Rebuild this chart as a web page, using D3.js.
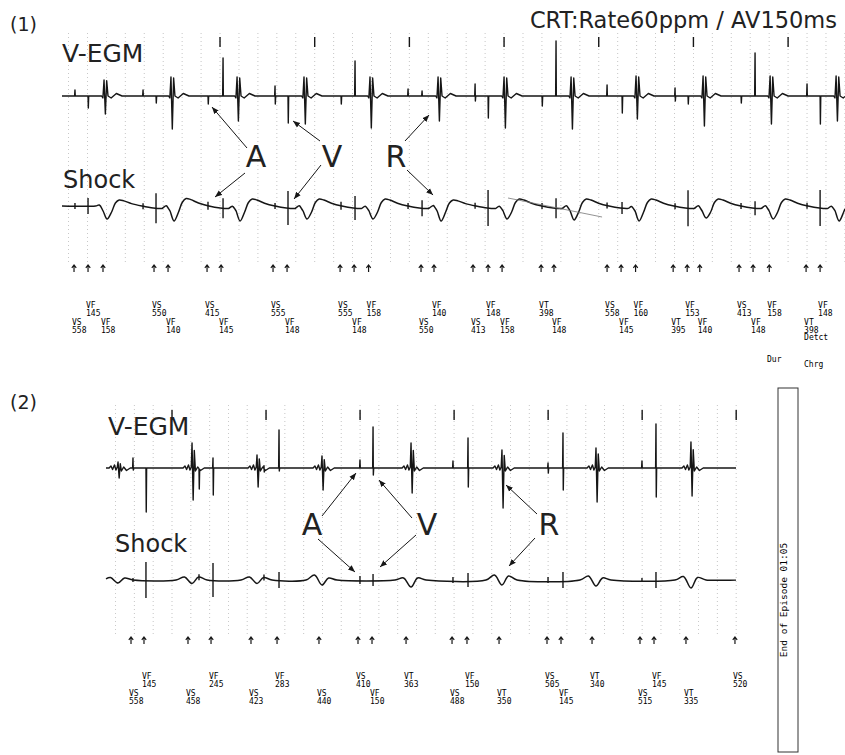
<!DOCTYPE html>
<html>
<head>
<meta charset="utf-8">
<script src="https://cdn.jsdelivr.net/npm/d3@7"></script>
<style>
  body { margin: 0; background: #fff; }
  svg { display: block; }
  .big { font-family: "DejaVu Sans", sans-serif; fill: #222; }
  .mk { font-family: "DejaVu Sans Mono", monospace; font-size: 8px; fill: #000; }
</style>
</head>
<body>
<svg id="chart" width="845" height="755"></svg>
<script>
// times in ms from the start of each strip, amplitudes in mV-like units

// ---- strip (1) ----
const p1SecTicks = [1669, 2669, 3669, 4669, 5669, 6669, 7669];
const p1SpikeT = [137, 275, 856, 993, 1542, 1701, 2250, 2387, 2947, 3095, 3655, 3803,
                  4363, 4500, 5070, 5218, 5757, 5915, 6475, 6612, 7172, 7320, 7869, 8007];
const p1SpikeUp = [0.6, 0, 0.6, 0, 0, 3.8, 1.0, 0, 0, 3.5, 0.7, 0.5,
                   1.2, 0, 0, 5.5, 1.1, 0, 0.8, 0, 0, 4.3, 1.2, 0];
const p1SpikeDown = [0, 1.2, 0, 0.7, 0.8, 0, 0.8, 2.7, 0.8, 0, 0, 0,
                     0.5, 2.2, 1.0, 0, 0, 1.7, 0.5, 0.8, 0.7, 0, 0, 2.8];
const p1SpikeShock = [0.3, 0.8, 0.3, 1.5, 0.4, 1.0, 0.3, 1.7, 0.4, 1.2, 0.3, 0.8,
                      0.3, 1.8, 0.3, 1.0, 0.3, 0.6, 0.3, 1.8, 0.3, 0.7, 0.3, 1.8];
const p1BeatT = [444, 1151, 1849, 2556, 3253, 3972, 4669, 5377, 6063, 6771, 7479, 8176];
const p1BeatUp = [1.6, 1.9, 1.9, 1.9, 1.9, 1.9, 1.9, 1.9, 2.0, 2.0, 2.0, 2.0];
const p1BeatDown = [1.8, 3.3, 2.5, 2.8, 3.2, 2.5, 3.2, 3.3, 2.3, 3.0, 2.8, 2.5];
const p1ShockDip = [1.3, 1.5, 1.5, 1.3, 1.3, 1.5, 1.3, 1.4, 1.5, 1.2, 1.3, 1.5];
const p1ShockHump = [0.6, 0.75, 0.7, 0.7, 0.7, 0.6, 0.7, 0.7, 0.7, 0.7, 0.7, 0.7];
const p1Artifact = [[4711, 0.8], [5704, -1.1]];
const p1MarkT = [127, 275, 433, 972, 1120, 1532, 1680, 2229, 2377, 2937, 3085, 3238, 3792, 3929, 4341,
                 4500, 4648, 5060, 5196, 5757, 5905, 6058, 6455, 6603, 6736, 7151, 7299, 7470, 7859, 8007];
const p1MarkType = ["VS","VF","VF","VS","VF","VS","VF","VS","VF","VS","VF","VF","VS","VF","VS",
                    "VF","VF","VT","VF","VS","VF","VF","VT","VF","VF","VS","VF","VF","VT","VF"];
const p1MarkVal = [558, 145, 158, 550, 140, 415, 145, 555, 148, 555, 148, 158, 550, 140, 413,
                   148, 158, 398, 148, 558, 145, 160, 395, 153, 140, 413, 148, 158, 398, 148];
const p1MarkExtra = ["", "", "", "", "", "", "", "", "", "", "", "", "", "", "",
                     "", "", "", "", "", "", "", "", "", "", "", "", "", "Detct", ""];

// ---- strip (2) ----
const p2SecTicks = [702, 1702, 2702, 3702, 4702, 5702, 6702];
const p2SpikeT = [287, 425, 989, 1138, 1680, 1840, 2701, 2840, 3690, 3850, 4701, 4860, 5700, 5849];
const p2SpikeUp = [1.0, 0, 0, 1.0, 0.3, 3.8, 0.8, 4.1, 0.7, 3.0, 0.5, 3.5, 0.7, 4.4];
const p2SpikeDown = [0.2, 4.4, 2.0, 2.7, 0.3, 0.3, 0, 0.7, 0, 1.9, 0.5, 2.2, 0, 2.9];
const p2SpikeShock = [0.2, 1.8, 0.3, 1.7, 0.3, 0.8, 0.4, 0.6, 0.3, 0.7, 0.3, 0.8, 0.2, 0.8];
const p2BeatT = [128, 915, 1606, 2297, 3244, 4211, 5211, 6221];
const p2BeatUp = [0.6, 2.5, 1.3, 1.2, 2.5, 1.8, 2.0, 2.6];
const p2BeatDown = [1.0, 3.2, 1.9, 2.2, 2.5, 4.0, 3.4, 2.8];
const p2ShockA = [0.25, 0.3, 0.3, 0.5, 0.2, 0.5, 0.4, 0.35];
const p2ShockB = [0.3, 0.35, 0.35, 0.5, 0.7, 0.5, 0.6, 0.8];
const p2ShockC = [0.2, 0.3, 0.25, 0.2, 0.2, 0.4, 0.2, 0.25];
const p2MarkT = [266, 404, 872, 1117, 1542, 1819, 2265, 2680, 2829, 3191,
                 3680, 3839, 4180, 4690, 4839, 5169, 5679, 5828, 6168, 6689];
const p2MarkType = ["VS","VF","VS","VF","VS","VF","VS","VS","VF","VT",
                    "VS","VF","VT","VS","VF","VT","VS","VF","VT","VS"];
const p2MarkVal = [558, 145, 458, 245, 423, 283, 440, 410, 150, 363,
                   488, 150, 350, 505, 145, 340, 515, 145, 335, 520];

const ink = "#161616";
const svg = d3.select("#chart");

svg.append("defs").append("marker")
    .attr("id", "ah")
    .attr("viewBox", "0 0 10 10")
    .attr("refX", 10).attr("refY", 5)
    .attr("markerWidth", 7).attr("markerHeight", 7)
    .attr("orient", "auto")
  .append("path")
    .attr("d", "M0,1 L10,5 L0,9 z")
    .attr("fill", ink);

// value of one piecewise-linear event at time t (events start and end at 0)
function evalKnots(k, t) {
  if (t <= k[0][0] || t >= k[k.length - 1][0]) return 0;
  const i = d3.bisector(d => d[0]).right(k, t);
  const a = k[i - 1], b = k[i];
  return a[1] + (b[1] - a[1]) * (t - a[0]) / (b[0] - a[0]);
}
// superpose all events on their own knots
function superpose(events, t0, t1) {
  const ts = new Set([t0, t1]);
  events.forEach(k => k.forEach(p => { if (p[0] > t0 && p[0] < t1) ts.add(p[0]); }));
  return Array.from(ts).sort((a, b) => a - b)
    .map(t => [t, d3.sum(events, k => evalKnots(k, t))]);
}

function drawStrip(c) {
  const g = svg.append("g");
  const [t0, t1] = c.x.domain();

  // dotted paper grid, 200 ms
  g.selectAll(".grid").data(d3.range(c.gridStart, t1 + 150, 200)).enter().append("line")
      .attr("x1", d => c.x(d)).attr("x2", d => c.x(d))
      .attr("y1", c.gridTop).attr("y2", c.gridBottom)
      .attr("stroke", "#9a9a9a").attr("stroke-width", 0.8)
      .attr("stroke-dasharray", "1 3").attr("opacity", 0.7);

  // 1 s timing ticks
  g.selectAll(".sec").data(c.secTicks).enter().append("line")
      .attr("x1", d => c.x(d)).attr("x2", d => c.x(d))
      .attr("y1", c.secTop).attr("y2", c.secTop + 10)
      .attr("stroke", ink).attr("stroke-width", 1.4);

  // V-EGM
  const egmEvents = [];
  c.spikeT.forEach((t, i) => egmEvents.push([[t - 4, 0], [t, c.spikeUp[i]], [t + 3, -c.spikeDown[i]], [t + 7, 0]]));
  c.beatT.forEach((t, i) => egmEvents.push(c.beatKnots(t, c.beatUp[i], c.beatDown[i], i)));
  const egm = superpose(egmEvents, t0, t1);
  g.append("path")
      .attr("d", d3.line().x(d => c.x(d[0])).y(d => c.yE(d[1]))(egm))
      .attr("fill", "none").attr("stroke", ink).attr("stroke-width", 1.4)
      .attr("stroke-linejoin", "round");

  // Shock
  const shockEvents = c.beatT.map((t, i) => c.shockKnots(t, i));
  const shock = superpose(shockEvents, t0, c.shockEnd);
  g.append("path")
      .attr("d", d3.line().curve(d3.curveCatmullRom.alpha(0.5)).x(d => c.x(d[0])).y(d => c.yS(d[1]))(shock))
      .attr("fill", "none").attr("stroke", ink).attr("stroke-width", 1.5);
  g.selectAll(".stick").data(c.spikeT).enter().append("line")
      .attr("x1", d => c.x(d)).attr("x2", d => c.x(d))
      .attr("y1", (d, i) => c.yS(d3.sum(shockEvents, k => evalKnots(k, d)) + c.spikeShock[i]))
      .attr("y2", (d, i) => c.yS(d3.sum(shockEvents, k => evalKnots(k, d)) - c.spikeShock[i]))
      .attr("stroke", ink).attr("stroke-width", 1.4);

  // marker arrows
  g.selectAll(".mkr").data(c.markT).enter().append("path")
      .attr("d", d => {
        const x = c.x(d), y = c.markTop;
        return `M${x},${y + 7}V${y}M${x - 2.2},${y + 2.8}L${x},${y}L${x + 2.2},${y + 2.8}`;
      })
      .attr("fill", "none").attr("stroke", ink).attr("stroke-width", 1.2);

  // marker annotations, alternating rows
  c.markT.forEach((t, i) => {
    const x = c.x(t) - 2;
    const y = c.labelTop + (i % 2 === c.firstLowIndex ? 17 : 0);
    const lines = [c.markType[i], String(c.markVal[i])];
    if (c.markExtra && c.markExtra[i]) lines.push(c.markExtra[i]);
    const tx = g.append("text").attr("class", "mk").attr("x", x).attr("y", y);
    lines.forEach((s, j) => tx.append("tspan").attr("x", x).attr("dy", j ? 7.5 : 0).text(s));
  });

  // titles
  g.append("text").attr("class", "big").attr("x", 10).attr("y", c.numY)
      .style("font-size", "19px").text(c.num);
  g.append("text").attr("class", "big").attr("x", c.egmLabelX).attr("y", c.egmLabelY)
      .style("font-size", "25px").text("V-EGM");
  g.append("text").attr("class", "big").attr("x", c.shockLabelX).attr("y", c.shockLabelY)
      .style("font-size", "24px").text("Shock");

  // A / V / R callouts
  c.notes.forEach(n => {
    g.append("text").attr("class", "big").attr("x", n.x).attr("y", c.noteY)
        .attr("text-anchor", "middle").style("font-size", "30px").text(n.text);
    n.arrows.forEach(a => {
      const y = a.trace === "egm" ? c.yE : c.yS;
      g.append("line")
          .attr("x1", a.from[0]).attr("y1", a.from[1])
          .attr("x2", c.x(a.t)).attr("y2", y(a.v))
          .attr("stroke", ink).attr("stroke-width", 1)
          .attr("marker-end", "url(#ah)");
    });
  });
  return g;
}

// strip (1)
const g1 = drawStrip({
  num: "(1)", numY: 31,
  x: d3.scaleLinear().domain([0, 8270]).range([62, 845]),
  yE: d3.scaleLinear().domain([-5, 5]).range([146, 46]),
  yS: d3.scaleLinear().domain([-5, 5]).range([256, 156]),
  shockEnd: 8270,
  gridStart: 69, gridTop: 33, gridBottom: 262,
  secTicks: p1SecTicks, secTop: 37,
  spikeT: p1SpikeT, spikeUp: p1SpikeUp, spikeDown: p1SpikeDown, spikeShock: p1SpikeShock,
  beatT: p1BeatT, beatUp: p1BeatUp, beatDown: p1BeatDown,
  beatKnots: (t, u, d) => [[t - 25, 0], [t - 12, -0.2], [t, u], [t + 14, -d], [t + 28, 0.95 * u],
                           [t + 42, 0], [t + 75, -0.2], [t + 130, 0.25], [t + 190, 0]],
  shockKnots: (t, i) => {
    const h = p1ShockHump[i];
    return [[t - 90, 0], [t - 50, 0.1], [t - 10, -0.5], [t + 32, -p1ShockDip[i]], [t + 80, -0.6],
            [t + 120, h * 0.5], [t + 160, h], [t + 210, h * 0.85], [t + 290, h * 0.4],
            [t + 400, 0], [t + 520, -0.2], [t + 610, -0.25], [t + 680, 0]];
  },
  markT: p1MarkT, markType: p1MarkType, markVal: p1MarkVal, markExtra: p1MarkExtra,
  markTop: 265, labelTop: 308, firstLowIndex: 0,
  egmLabelX: 62, egmLabelY: 62, shockLabelX: 63, shockLabelY: 188,
  noteY: 167,
  notes: [
    { text: "A", x: 256, arrows: [{ trace: "egm", t: 1584, v: -1.1, from: [247, 148] },
                                  { trace: "shock", t: 1616, v: 0.9, from: [245, 173] }] },
    { text: "V", x: 332, arrows: [{ trace: "egm", t: 2440, v: -2.5, from: [320, 141] },
                                  { trace: "shock", t: 2451, v: 0.7, from: [321, 165] }] },
    { text: "R", x: 396, arrows: [{ trace: "egm", t: 3877, v: -1.9, from: [405, 141] },
                                  { trace: "shock", t: 3919, v: 1.1, from: [407, 170] }] }
  ]
});

// stray pen line on strip (1)
{
  const x = d3.scaleLinear().domain([0, 8270]).range([62, 845]);
  const y = d3.scaleLinear().domain([-5, 5]).range([256, 156]);
  g1.append("path")
      .attr("d", d3.line().x(d => x(d[0])).y(d => y(d[1]))(p1Artifact))
      .attr("stroke", "#777").attr("stroke-width", 0.8).attr("fill", "none");
}

// strip (2)
drawStrip({
  num: "(2)", numY: 409,
  x: d3.scaleLinear().domain([0, 6700]).range([106, 736]),
  yE: d3.scaleLinear().domain([-5, 5]).range([518, 418]),
  yS: d3.scaleLinear().domain([-5, 5]).range([630, 530]),
  shockEnd: 6700,
  gridStart: 102, gridTop: 405, gridBottom: 634,
  secTicks: p2SecTicks, secTop: 410,
  spikeT: p2SpikeT, spikeUp: p2SpikeUp, spikeDown: p2SpikeDown, spikeShock: p2SpikeShock,
  beatT: p2BeatT, beatUp: p2BeatUp, beatDown: p2BeatDown,
  beatKnots: (t, u, d) => [[t - 95, 0], [t - 75, 0.2], [t - 58, -0.15], [t - 38, 0.3], [t - 22, -0.2],
                           [t - 8, 0.1], [t, u], [t + 12, -d], [t + 24, 0.7 * u], [t + 36, -0.3],
                           [t + 60, 0.1], [t + 90, -0.25], [t + 130, 0]],
  shockKnots: (t, i) => [[t - 170, 0], [t - 80, p2ShockA[i]], [t, -p2ShockB[i]], [t + 70, p2ShockC[i]], [t + 160, 0]],
  markT: p2MarkT, markType: p2MarkType, markVal: p2MarkVal,
  markTop: 637, labelTop: 679, firstLowIndex: 0,
  egmLabelX: 108, egmLabelY: 435, shockLabelX: 115, shockLabelY: 552,
  noteY: 535,
  notes: [
    { text: "A", x: 312, arrows: [{ trace: "egm", t: 2659, v: -0.5, from: [322, 516] },
                                  { trace: "shock", t: 2648, v: 0.8, from: [318, 539] }] },
    { text: "V", x: 427, arrows: [{ trace: "egm", t: 2903, v: -1.2, from: [412, 518] },
                                  { trace: "shock", t: 2914, v: 1.3, from: [416, 535] }] },
    { text: "R", x: 549, arrows: [{ trace: "egm", t: 4254, v: -1.7, from: [537, 514] },
                                  { trace: "shock", t: 4286, v: 1.4, from: [535, 538] }] }
  ]
});

// header and episode-end notes
svg.append("text").attr("class", "big").attr("x", 837).attr("y", 28)
    .attr("text-anchor", "end").style("font-size", "22.5px").text("CRT:Rate60ppm / AV150ms");
svg.append("text").attr("class", "mk").attr("x", 767).attr("y", 362).text("Dur");
svg.append("text").attr("class", "mk").attr("x", 804).attr("y", 367).text("Chrg");
svg.append("rect").attr("x", 778).attr("y", 388).attr("width", 20).attr("height", 364)
    .attr("fill", "none").attr("stroke", "#333").attr("stroke-width", 1);
svg.append("text").attr("class", "mk")
    .attr("transform", "translate(787,600) rotate(-90)")
    .attr("text-anchor", "middle").style("font-size", "9.5px")
    .text("End of Episode 01:05");
</script>
</body>
</html>
